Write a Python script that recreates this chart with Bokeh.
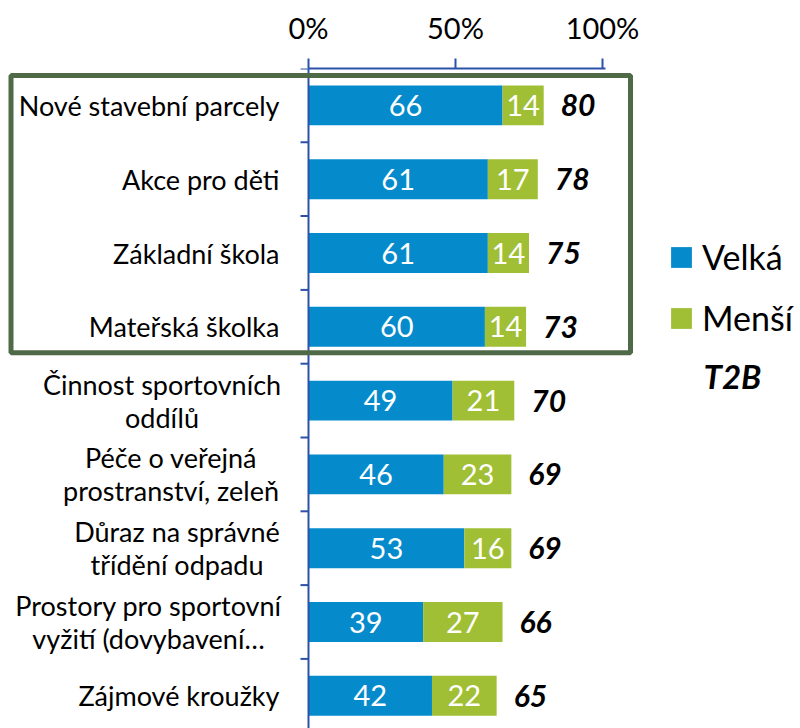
from bokeh.plotting import figure
from bokeh.models import (Range1d, FixedTicker, Span, BoxAnnotation, Legend,
                          LegendItem, Label, ColumnDataSource)
from bokeh.core.properties import value
from bokeh.embed import file_html
from bokeh.resources import INLINE

# ---------------- data ----------------
categories = ["Nové stavební parcely", "Akce pro děti", "Základní škola",
              "Mateřská školka", "Činnost sportovních\noddílů",
              "Péče o veřejná\nprostranství, zeleň",
              "Důraz na správné\ntřídění odpadu",
              "Prostory pro sportovní\nvyžití (dovybavení…",
              "Zájmové kroužky"]
velka = [66, 61, 61, 60, 49, 46, 53, 39, 42]
mensi = [14, 17, 14, 14, 21, 23, 16, 27, 22]
t2b = [80, 78, 75, 73, 70, 69, 69, 66, 65]
x_ticks = [0, 50, 100]
x_tick_labels = ["0%", "50%", "100%"]
series_names = ["Velká", "Menší"]
total_name = "T2B"
highlighted = 4  # first n categories framed

# ---------------- layout / style ----------------
FONT = "Lato"
FS_CAT = "27px"
FS_TICK = "29px"
FS_VAL = "29px"
FS_TOT = "30px"
FS_LEG = "34px"
BLUE = "#058bcc"
GREEN = "#a0bf35"
AXIS = "#2a52a8"
FRAME = "#4e6a47"

W, H = 800, 728
TOP = 68          # px of the top axis line
X0 = 308          # px of 0 %
PX = 2.94         # px per 1 %
BAND = 73.8       # px per category
LABEL_RIGHT = 279
LINE_PX = 33
LABEL_CENTER_PX = {4: 161.5, 5: 170.5, 6: 176.5, 7: 148}

x_start = -X0 / PX
x_end = (W - X0) / PX
y_bottom = (H - TOP) / BAND

n = len(categories)
ys = [i + 0.5 for i in range(n)]
ends = [v + m for v, m in zip(velka, mensi)]

src = ColumnDataSource(dict(
    y=ys, velka=velka, mensi=mensi, t2b=t2b, end=ends,
    velka_lbl=[str(v) for v in velka], mensi_lbl=[str(m) for m in mensi],
    t2b_lbl=[str(t) for t in t2b],
    velka_mid=[v / 2 for v in velka],
    mensi_mid=[v + m / 2 for v, m in zip(velka, mensi)],
    t2b_x=[e + 17 / PX for e in ends],
))

# category label lines (wrapped labels centred on each other)
lx, ly, lt, la = [], [], [], []
for i, cat in enumerate(categories):
    lines = cat.split("\n")
    for k, line in enumerate(lines):
        off = (k - (len(lines) - 1) / 2) * LINE_PX / BAND
        ly.append(i + 0.5 + off)
        lt.append(line)
        if i in LABEL_CENTER_PX:
            lx.append((LABEL_CENTER_PX[i] - X0) / PX)
            la.append("center")
        else:
            lx.append((LABEL_RIGHT - X0) / PX)
            la.append("right")
cat_src = ColumnDataSource(dict(x=lx, y=ly, text=lt, align=la))

p = figure(width=W, height=H, output_backend="svg", toolbar_location=None,
           x_range=Range1d(x_start, x_end), y_range=Range1d(y_bottom, 0),
           x_axis_location="above", y_axis_location=None,
           min_border_left=0, min_border_right=0, min_border_top=TOP,
           min_border_bottom=0)
p.outline_line_color = None
p.grid.visible = False
p.background_fill_color = "white"
p.border_fill_color = "white"

# top axis
ax = p.xaxis[0]
ax.ticker = FixedTicker(ticks=x_ticks)
ax.major_label_overrides = {t: l for t, l in zip(x_ticks, x_tick_labels)}
ax.bounds = (0, 101)
ax.major_tick_out = 10
ax.major_tick_in = 0
ax.minor_tick_out = 0
ax.minor_tick_in = 0
ax.axis_line_color = AXIS
ax.axis_line_width = 2
ax.major_tick_line_color = AXIS
ax.major_tick_line_width = 2
ax.major_label_text_font = FONT
ax.major_label_text_font_size = FS_TICK
ax.major_label_text_color = "black"
ax.major_label_standoff = 14

# vertical axis line + category boundary ticks
p.add_layout(Span(location=0, dimension="height", line_color=AXIS, line_width=2))
p.segment(x0=[-8 / PX] * (n + 1), x1=[0] * (n + 1), y0=list(range(n + 1)),
          y1=list(range(n + 1)), line_color=AXIS, line_width=2)

# bars
r1 = p.hbar(y="y", left=0, right="velka", height=0.54, source=src,
            fill_color=BLUE, line_color=None)
r2 = p.hbar(y="y", left="velka", right="end", height=0.54, source=src,
            fill_color=GREEN, line_color=None)

# value labels
p.text(x="velka_mid", y="y", text="velka_lbl", source=src, text_color="white",
       text_font=value(FONT), text_font_size=FS_VAL, text_align="center",
       text_baseline="middle")
p.text(x="mensi_mid", y="y", text="mensi_lbl", source=src, text_color="white",
       text_font=value(FONT), text_font_size=FS_VAL, text_align="center",
       text_baseline="middle")
p.text(x="t2b_x", y="y", text="t2b_lbl", source=src, text_color="black",
       text_font=value(FONT), text_font_size=FS_TOT,
       text_font_style="bold italic", text_align="left",
       text_baseline="middle")

# category labels
p.text(x="x", y="y", text="text", source=cat_src, text_color="black",
       text_font=value(FONT), text_font_size=FS_CAT, text_align="align",
       text_baseline="middle")

# highlight frame
p.add_layout(BoxAnnotation(left=(10.5 - X0) / PX, right=(630 - X0) / PX,
                           top=(75 - TOP) / BAND, bottom=highlighted - 0.15,
                           fill_alpha=0, line_color=FRAME, line_alpha=1,
                           line_width=5))

# legend
legend = Legend(items=[LegendItem(label=series_names[0], renderers=[r1]),
                       LegendItem(label=series_names[1], renderers=[r2])],
                location=(668, 390), orientation="vertical",
                glyph_width=26, glyph_height=26, label_standoff=8,
                spacing=20, padding=0, margin=0, border_line_color=None,
                background_fill_alpha=0, label_text_font=FONT,
                label_text_font_size=FS_LEG, label_text_color="black")
p.add_layout(legend)

p.add_layout(Label(x=(703 - X0) / PX, y=(375 - TOP) / BAND, text=total_name,
                   text_font=FONT, text_font_size="33px",
                   text_font_style="bold italic", text_baseline="middle",
                   text_color="black"))

open("out.html", "w").write(file_html(p, INLINE))
